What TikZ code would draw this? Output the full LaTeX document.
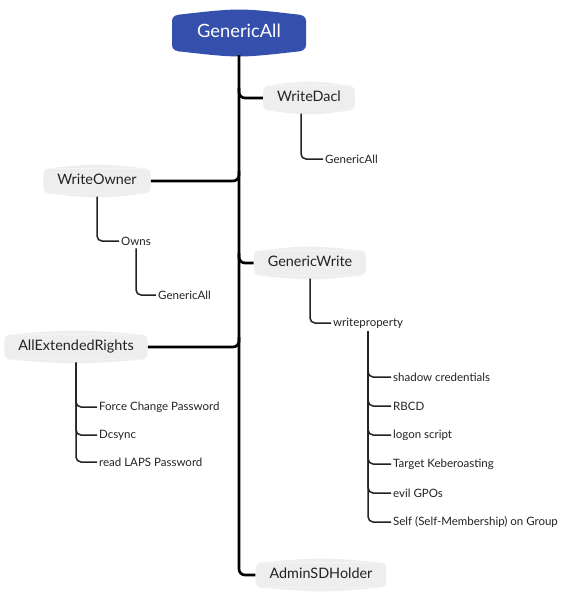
\documentclass[tikz,border=0pt]{standalone}
\usepackage{fontspec}
\setmainfont{Lato}
\usetikzlibrary{backgrounds}
\definecolor{rootblue}{HTML}{3550AC}
\definecolor{boxgray}{HTML}{EEEEEE}
\definecolor{inkdark}{HTML}{222222}

\begin{document}
\begin{tikzpicture}[x=1pt,y=-1pt]
	\tikzstyle{rootnode} = [fill=rootblue, text=white, rounded corners=6pt, minimum width=134pt, minimum height=36pt, text height=1.8ex, text depth=0ex, font=\fontsize{18.3}{20}\selectfont]
	\tikzstyle{topic} = [fill=boxgray, text=inkdark, rounded corners=6pt, inner xsep=14pt, minimum height=25pt, text height=1.7ex, text depth=0.3ex, font=\fontsize{14.4}{16}\selectfont]
	\tikzstyle{leaf} = [anchor=west, inner xsep=2pt, inner ysep=3pt, text=inkdark, font=\fontsize{11.5}{13}\selectfont]
	\tikzstyle{trunk} = [draw=black, line width=2.7pt, rounded corners=6pt]
	\tikzstyle{twig} = [draw=inkdark, line width=1.5pt, rounded corners=5pt]
	\useasboundingbox (0,0) rectangle (564,600);
		% main topics
		\node[rootnode] (gall) at (239,33) {GenericAll};
		\node[topic] (wdacl) at (309,98) {WriteDacl};
		\node[topic] (wowner) at (97,181) {WriteOwner};
		\node[topic] (gwrite) at (310,263) {GenericWrite};
		\node[topic] (aer) at (76,347) {AllExtendedRights};
		\node[topic] (asdh) at (321,575) {AdminSDHolder};
		% subtopics
		\node[leaf] (ga1) at (323,159) {GenericAll};
		\node[leaf] (owns) at (119,241) {Owns};
		\node[leaf] (ga2) at (156,295) {GenericAll};
		\node[leaf] (wprop) at (331,323) {writeproperty};
		\node[leaf] (shadow) at (391,377) {shadow credentials};
		\node[leaf] (rbcd) at (391,406) {RBCD};
		\node[leaf] (logon) at (391,435) {logon script};
		\node[leaf] (kerb) at (391,464) {Target Keberoasting};
		\node[leaf] (gpo) at (391,493) {evil GPOs};
		\node[leaf] (selfm) at (391,522) {Self (Self-Membership) on Group};
		\node[leaf] (fcp) at (97,407) {Force Change Password};
		\node[leaf] (dcs) at (97,435) {Dcsync};
		\node[leaf] (laps) at (97,462) {read LAPS Password};
		% points on the trunk
		\coordinate (t1) at (239,88);
		\coordinate (t2) at (239,171);
		\coordinate (t3) at (239,253);
		\coordinate (t4) at (239,337);
	\draw[trunk] ([yshift=-4pt]gall.south) |- (asdh.west);
	\draw[trunk] (t1) |- (wdacl.west);
	\draw[trunk] (wowner.east) -| (t2);
	\draw[trunk] (t3) |- (gwrite.west);
	\draw[trunk] (aer.east) -| (t4);
	\draw[twig] ([xshift=-8pt,yshift=-3pt]wdacl.south) |- (ga1.west);
	\draw[twig] ([yshift=-3pt]wowner.south) |- (owns.west);
	\draw[twig] (owns.south) |- (ga2.west);
	\draw[twig] ([yshift=-3pt]gwrite.south) |- (wprop.west);
	\draw[twig] (wprop.south) |- (shadow.west);
	\draw[twig] (wprop.south) |- (rbcd.west);
	\draw[twig] (wprop.south) |- (logon.west);
	\draw[twig] (wprop.south) |- (kerb.west);
	\draw[twig] (wprop.south) |- (gpo.west);
	\draw[twig] (wprop.south) |- (selfm.west);
	\draw[twig] ([yshift=-3pt]aer.south) |- (fcp.west);
	\draw[twig] ([yshift=-3pt]aer.south) |- (dcs.west);
	\draw[twig] ([yshift=-3pt]aer.south) |- (laps.west);
	% bulging top and bottom edges
	\begin{scope}[on background layer]
		\fill[rootblue] ([xshift=6pt]gall.north west) .. controls ([yshift=7pt]gall.north) .. ([xshift=-6pt]gall.north east) -- cycle;
		\fill[rootblue] ([xshift=6pt]gall.south west) .. controls ([yshift=-7pt]gall.south) .. ([xshift=-6pt]gall.south east) -- cycle;
		\foreach \n in {wdacl,wowner,gwrite,aer,asdh} {
			\fill[boxgray] ([xshift=6pt]\n.north west) .. controls ([yshift=5pt]\n.north) .. ([xshift=-6pt]\n.north east) -- cycle;
			\fill[boxgray] ([xshift=6pt]\n.south west) .. controls ([yshift=-5pt]\n.south) .. ([xshift=-6pt]\n.south east) -- cycle;
		}
	\end{scope}
\end{tikzpicture}
\end{document}
